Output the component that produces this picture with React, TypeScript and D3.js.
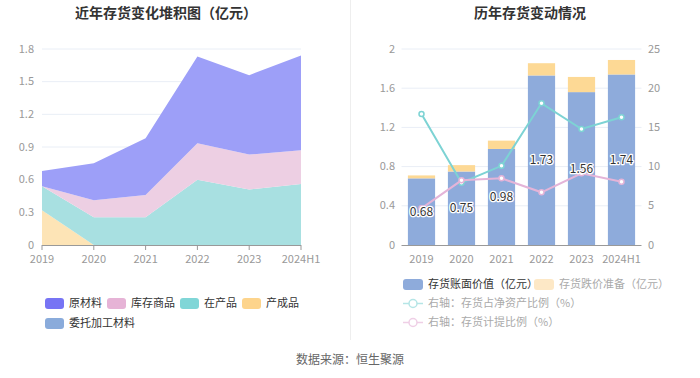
import React from "react";
import * as d3 from "d3";

const years = ["2019", "2020", "2021", "2022", "2023", "2024H1"];
// Left stacked area (亿元)
const finished = [0.32, 0, 0, 0, 0, 0]; // 产成品
const wip = [0.22, 0.255, 0.255, 0.6, 0.51, 0.56]; // 在产品
const goods = [0, 0.155, 0.205, 0.335, 0.32, 0.31]; // 库存商品
const raw = [0.14, 0.34, 0.52, 0.795, 0.73, 0.87]; // 原材料
const entrusted = [0, 0, 0, 0, 0, 0]; // 委托加工材料
const leftTicks = [0, 0.3, 0.6, 0.9, 1.2, 1.5, 1.8];

// Right chart
const bookValue = [0.68, 0.75, 0.98, 1.73, 1.56, 1.74];
const reserve = [0.03, 0.065, 0.085, 0.125, 0.155, 0.148];
const ratioNetAssets = [16.7, 7.95, 10.1, 18.07, 14.8, 16.3];
const ratioProvision = [4.68, 8.25, 8.5, 6.72, 9.14, 8.07];
const rightLeftTicks = [0, 0.4, 0.8, 1.2, 1.6, 2];
const rightRightTicks = [0, 5, 10, 15, 20, 25];

const FONT = "'Noto Sans CJK SC', 'Noto Sans', sans-serif";
const GRID = "#e9eef6";
const TICK = "#999";

export default function App() {
  // left chart
  const lx = d3.scalePoint<string>().domain(years).range([42, 301]);
  const ly = d3.scaleLinear().domain([0, 1.8]).range([245, 49]);
  const layers = [
    { name: "产成品", data: finished, fill: "#fde4b6", leg: "#fdd48c" },
    { name: "在产品", data: wip, fill: "#a8e0e1", leg: "#80d6d7" },
    { name: "库存商品", data: goods, fill: "#edcfe3", leg: "#e6b3d6" },
    { name: "原材料", data: raw, fill: "#9d9ff8", leg: "#7774f4" },
    { name: "委托加工材料", data: entrusted, fill: "#a9c1e6", leg: "#8aabdb" },
  ];
  const rows = years.map((y, i) => {
    const r: any = { year: y };
    layers.forEach((l) => (r[l.name] = l.data[i]));
    return r;
  });
  const stack = d3.stack<any>().keys(layers.map((l) => l.name));
  const series = stack(rows);
  const area = d3
    .area<any>()
    .x((d) => lx(d.data.year)!)
    .y0((d) => ly(d[0]))
    .y1((d) => ly(d[1]));

  // right chart
  const rx = d3.scaleBand<string>().domain(years).range([401.5, 641.5]).paddingInner(0.32).paddingOuter(0.16);
  const ry = d3.scaleLinear().domain([0, 2]).range([245, 49]);
  const ry2 = d3.scaleLinear().domain([0, 25]).range([245, 49]);
  const cx = (y: string) => rx(y)! + rx.bandwidth() / 2;
  const line = d3
    .line<number>()
    .x((_, i) => cx(years[i]));

  const leftLegend = [
    { l: layers[3], x: 45, y: 303 },
    { l: layers[2], x: 107, y: 303 },
    { l: layers[1], x: 180, y: 303 },
    { l: layers[0], x: 242, y: 303 },
    { l: layers[4], x: 45, y: 323 },
  ];

  return (
    <svg width={700} height={378} style={{ display: "block", position: "absolute", left: 0, top: 0 }} fontFamily={FONT}>
      <rect width={700} height={378} fill="#fff" />
      {/* titles */}
      <text x={166} y={18} textAnchor="middle" fontSize={14} fontWeight="bold" fill="#333">
        近年存货变化堆积图（亿元）
      </text>
      <text x={530} y={18} textAnchor="middle" fontSize={14} fontWeight="bold" fill="#333">
        历年存货变动情况
      </text>
      <line x1={350.5} x2={350.5} y1={0} y2={340} stroke="#eee" />

      {/* Left chart */}
      {leftTicks.map((t) => (
        <g key={t}>
          {t > 0 && <line x1={42} x2={301} y1={ly(t)} y2={ly(t)} stroke={GRID} />}
          <text x={34} y={ly(t) + 3.5} textAnchor="end" fontSize={11} fill={TICK}>
            {t}
          </text>
        </g>
      ))}
      {series.map((s, i) => (
        <path key={s.key} d={area(s as any)!} fill={layers[i].fill} />
      ))}
      <line x1={42} x2={301} y1={245.5} y2={245.5} stroke="#999" />
      {years.map((y) => (
        <g key={y}>
          <line x1={lx(y)} x2={lx(y)} y1={245} y2={250} stroke="#999" />
          <text x={lx(y)} y={262.5} textAnchor="middle" fontSize={11} fill={TICK}>
            {y}
          </text>
        </g>
      ))}
      {leftLegend.map(({ l, x, y }) => (
        <g key={l.name}>
          <rect x={x} y={y - 5} width={19} height={11} rx={3} fill={l.leg} />
          <text x={x + 24} y={y + 4} fontSize={11} fill="#333">
            {l.name}
          </text>
        </g>
      ))}

      {/* Right chart */}
      {rightLeftTicks.map((t, i) => (
        <g key={t}>
          {t > 0 && <line x1={401.5} x2={641.5} y1={ry(t)} y2={ry(t)} stroke={GRID} />}
          <text x={395} y={ry(t) + 3.5} textAnchor="end" fontSize={11} fill={TICK}>
            {t}
          </text>
          <text x={648} y={ry2(rightRightTicks[i]) + 3.5} textAnchor="start" fontSize={11} fill={TICK}>
            {rightRightTicks[i]}
          </text>
        </g>
      ))}
      {years.map((y, i) => (
        <g key={y}>
          <rect x={rx(y)} y={ry(bookValue[i])} width={rx.bandwidth()} height={ry(0) - ry(bookValue[i])} fill="#8eabdb" />
          <rect
            x={rx(y)}
            y={ry(bookValue[i] + reserve[i])}
            width={rx.bandwidth()}
            height={ry(bookValue[i]) - ry(bookValue[i] + reserve[i])}
            fill="#fdd995"
          />
        </g>
      ))}
      <line x1={401.5} x2={641.5} y1={245.5} y2={245.5} stroke="#999" />
      {years.map((y) => (
        <g key={y}>
          <text x={cx(y)} y={262.5} textAnchor="middle" fontSize={11} fill={TICK}>
            {y}
          </text>
        </g>
      ))}
      <path d={line.y((d) => ry2(d))(ratioNetAssets)!} fill="none" stroke="#7dd3d4" strokeWidth={2} />
      {ratioNetAssets.map((v, i) => (
        <circle key={i} cx={cx(years[i])} cy={ry2(v)} r={2.5} fill="#fff" stroke="#7dd3d4" strokeWidth={1.5} />
      ))}
      <path d={line.y((d) => ry2(d))(ratioProvision)!} fill="none" stroke="#e4b4d8" strokeWidth={2} />
      {ratioProvision.map((v, i) => (
        <circle key={i} cx={cx(years[i])} cy={ry2(v)} r={2.5} fill="#fff" stroke="#e4b4d8" strokeWidth={1.5} />
      ))}
      {years.map((y, i) => (
        <text
          key={y}
          x={cx(y)}
          y={ry(bookValue[i] / 2) + 4}
          textAnchor="middle"
          fontSize={12}
          fill="#333"
          stroke="#fff"
          strokeWidth={2.5}
          paintOrder="stroke"
          strokeLinejoin="round"
        >
          {bookValue[i].toFixed(2)}
        </text>
      ))}

      {/* Right legend */}
      <rect x={403} y={279} width={20} height={11} rx={3} fill="#8eabdb" />
      <text x={428} y={288} fontSize={11} fill="#333">
        存货账面价值（亿元）
      </text>
      <rect x={534} y={279} width={20} height={11} rx={3} fill="#fde8c6" />
      <text x={559} y={288} fontSize={11} fill="#aaa">
        存货跌价准备（亿元）
      </text>
      <line x1={403} x2={423} y1={303.5} y2={303.5} stroke="#b5e5e6" strokeWidth={1.5} />
      <circle cx={413} cy={303.5} r={4} fill="#fff" stroke="#b5e5e6" strokeWidth={1.5} />
      <text x={428} y={307} fontSize={11} fill="#aaa">
        右轴：存货占净资产比例（%）
      </text>
      <line x1={403} x2={423} y1={322.5} y2={322.5} stroke="#efcfe6" strokeWidth={1.5} />
      <circle cx={413} cy={322.5} r={4} fill="#fff" stroke="#efcfe6" strokeWidth={1.5} />
      <text x={428} y={326} fontSize={11} fill="#aaa">
        右轴：存货计提比例（%）
      </text>

      <text x={350} y={364} textAnchor="middle" fontSize={12} fill="#666">
        数据来源：恒生聚源
      </text>
    </svg>
  );
}
